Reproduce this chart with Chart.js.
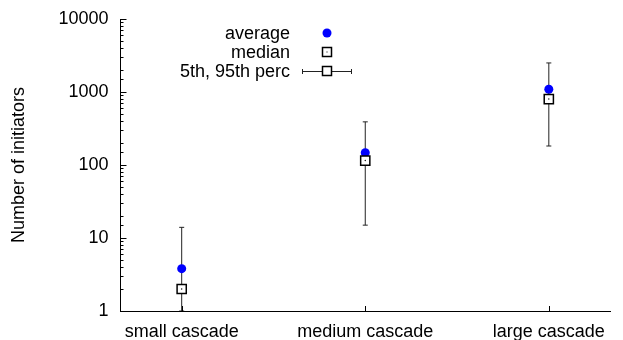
<!DOCTYPE html>
<html>
<head>
<meta charset="utf-8">
<script src="https://cdn.jsdelivr.net/npm/chart.js@4/dist/chart.umd.min.js"></script>
<style>
  html, body { margin: 0; padding: 0; background: #fff; }
  #wrap { width: 623px; height: 340px; }
</style>
</head>
<body>
<div id="wrap"><canvas id="chart"></canvas></div>
<script>
// ===== data =====
const categories = ['small cascade', 'medium cascade', 'large cascade'];
const averages = [3.8, 147, 1090];
const medians = [2, 115, 800];
const perc5 = [1, 15, 182];
const perc95 = [14, 390, 2500];
const legendLabels = ['average', 'median', '5th, 95th perc'];

const FONT = '"Liberation Sans", Arial, sans-serif';
Chart.defaults.font.family = FONT;
Chart.defaults.color = '#000';

// one vertical segment per category, caps via 'line' points
const errSets = categories.map((c, i) => ({
  label: 'err' + i,
  data: [{ x: i, y: perc5[i] }, { x: i, y: perc95[i] }],
  showLine: true, borderColor: '#222', borderWidth: 1,
  pointStyle: 'line', pointRadius: 2.5, pointBorderColor: '#222', pointBorderWidth: 1,
  order: 3
}));

// inward tick marks, gnuplot style
const innerTicks = {
  id: 'innerTicks',
  afterDraw(chart) {
    const ctx = chart.ctx, y = chart.scales.y, x = chart.scales.x;
    ctx.save();
    ctx.strokeStyle = '#000';
    ctx.lineWidth = 1;
    y.ticks.forEach(t => {
      const py = Math.round(y.getPixelForValue(t.value)) + 0.5;
      const major = Math.abs(Math.log10(t.value) % 1) < 1e-9;
      ctx.beginPath();
      ctx.moveTo(y.right, py);
      ctx.lineTo(y.right + (major ? 6 : 3), py);
      ctx.stroke();
    });
    x.ticks.forEach(t => {
      const px = Math.round(x.getPixelForValue(t.value)) + 0.5;
      ctx.beginPath();
      ctx.moveTo(px, x.top);
      ctx.lineTo(px, x.top - 5);
      ctx.stroke();
    });
    ctx.restore();
  }
};

// gnuplot-like key in the upper middle
const keyBox = {
  id: 'keyBox',
  afterDraw(chart) {
    const ctx = chart.ctx;
    const tx = 290, sx = 327, rows = [33, 52, 71];
    ctx.save();
    ctx.font = '18px ' + FONT;
    ctx.fillStyle = '#000';
    ctx.textAlign = 'right';
    ctx.textBaseline = 'middle';
    legendLabels.forEach((l, i) => ctx.fillText(l, tx, rows[i] + 1));
    // average
    ctx.fillStyle = '#0000ff';
    ctx.beginPath(); ctx.arc(sx, rows[0], 4.5, 0, Math.PI * 2); ctx.fill();
    // median
    ctx.strokeStyle = '#000'; ctx.lineWidth = 1.5;
    ctx.strokeRect(sx - 4.5, rows[1] - 4.5, 9, 9);
    ctx.fillStyle = '#000'; ctx.fillRect(sx - 0.5, rows[1] - 0.5, 1, 1);
    // errorbar sample
    ctx.lineWidth = 1; ctx.strokeStyle = '#222';
    ctx.beginPath();
    ctx.moveTo(302, rows[2] + 0.5); ctx.lineTo(352, rows[2] + 0.5);
    ctx.moveTo(302.5, rows[2] - 2); ctx.lineTo(302.5, rows[2] + 3);
    ctx.moveTo(351.5, rows[2] - 2); ctx.lineTo(351.5, rows[2] + 3);
    ctx.stroke();
    ctx.fillStyle = '#fff'; ctx.strokeStyle = '#000'; ctx.lineWidth = 1.5;
    ctx.fillRect(sx - 4.5, rows[2] - 4.5, 9, 9);
    ctx.strokeRect(sx - 4.5, rows[2] - 4.5, 9, 9);
    ctx.restore();
  }
};

new Chart(document.getElementById('chart'), {
  type: 'scatter',
  data: {
    datasets: [
      ...errSets,
      { label: 'average', data: averages.map((v, i) => ({ x: i, y: v })),
        pointStyle: 'circle', pointRadius: 4.5, backgroundColor: '#0000ff', borderColor: '#0000ff', borderWidth: 0, order: 2 },
      { label: 'median', data: medians.map((v, i) => ({ x: i, y: v })),
        pointStyle: 'rect', pointRadius: 6.5, backgroundColor: '#fff', borderColor: '#000', borderWidth: 1.5, order: 1 },
      { label: 'medianDot', data: medians.map((v, i) => ({ x: i, y: v })),
        pointStyle: 'circle', pointRadius: 0.7, backgroundColor: '#000', borderWidth: 0, order: 0 }
    ]
  },
  options: {
    responsive: true, maintainAspectRatio: false, animation: false,
    layout: { padding: { top: 19, right: 13, left: 0, bottom: 0 } },
    plugins: { legend: { display: false }, tooltip: { enabled: false } },
    scales: {
      x: {
        type: 'linear', min: -1 / 3, max: 7 / 3,
        afterBuildTicks: s => { s.ticks = categories.map((c, i) => ({ value: i })); },
        afterFit: s => { s.height = 29; s.paddingLeft = 0; s.paddingRight = 0; },
        grid: { drawOnChartArea: false, drawTicks: false },
        border: { color: '#000', width: 1 },
        ticks: { font: { size: 18 }, padding: 10, maxRotation: 0, autoSkip: false,
                 callback: v => categories[v] }
      },
      y: {
        type: 'logarithmic', min: 1, max: 10000,
        afterFit: s => { s.width = 120.5; s.paddingTop = 0; s.paddingBottom = 0; },
        grid: { drawOnChartArea: false, drawTicks: false },
        border: { color: '#000', width: 1 },
        title: { display: true, text: 'Number of initiators', font: { size: 18 }, padding: { top: 8, bottom: 0 } },
        ticks: { font: { size: 18 }, padding: 12, autoSkip: false,
                 callback: v => (Math.abs(Math.log10(v) % 1) < 1e-9 ? String(v) : '') }
      }
    }
  },
  plugins: [innerTicks, keyBox]
});
</script>
</body>
</html>
